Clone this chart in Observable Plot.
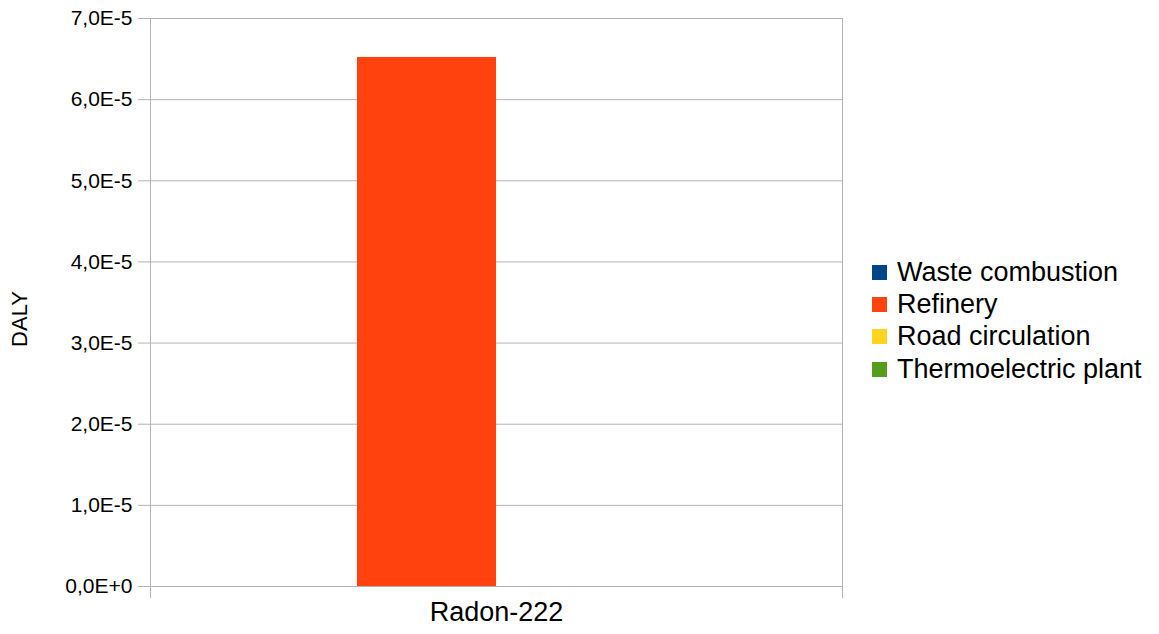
<!DOCTYPE html>
<html>
<head>
<meta charset="utf-8">
<script src="https://cdn.jsdelivr.net/npm/d3@7"></script>
<script src="https://cdn.jsdelivr.net/npm/@observablehq/plot@0.6"></script>
<style>
  body { margin: 0; background: #fff; font-family: "Liberation Sans", Arial, sans-serif; }
  #wrap { position: relative; width: 1159px; height: 634px; }
  #legend { position: absolute; left: 872px; top: 256px; font-size: 27px; color: #000; }
  .row { display: flex; align-items: center; height: 32.3px; }
  .sw { width: 15px; height: 15px; margin-right: 10px; }
  #ylabel { position: absolute; left: 20px; top: 318.5px; font-size: 22px; color: #000;
            transform: translate(-50%, -50%) rotate(-90deg); white-space: nowrap; line-height: 1; }
</style>
</head>
<body>
<div id="wrap"></div>
<script>
const categories = ["Radon-222"];
const series = ["Waste combustion", "Refinery", "Road circulation", "Thermoelectric plant"];
const values = [0, 6.52e-5, 0, 0];
const colors = ["#004586", "#ff420e", "#ffd320", "#579d1c"];
const yTicks = [0, 1e-5, 2e-5, 3e-5, 4e-5, 5e-5, 6e-5, 7e-5];
const yLabel = "DALY";

const data = series.map((s, i) => ({category: categories[0], series: s, value: values[i]}));
const fmt = d => d.toExponential(1).replace(".", ",").replace("e", "E");
const grid = "#b3b3b3";

const chart = Plot.plot({
  width: 1159,
  height: 634,
  marginLeft: 150,
  marginRight: 317,
  marginTop: 18,
  marginBottom: 48,
  style: {fontFamily: "Liberation Sans, Arial, sans-serif", fontSize: "21px", color: "#000", background: "#fff"},
  x: {domain: series, paddingInner: 0, paddingOuter: 0.48, axis: null},
  y: {domain: [0, 7e-5], ticks: yTicks, tickFormat: fmt, tickSize: 0, tickPadding: 18, label: null},
  color: {domain: series, range: colors},
  marks: [
    Plot.ruleY(yTicks, {stroke: grid, strokeWidth: 1, insetLeft: -12}),
    Plot.barY(data, {x: "series", y: "value", fill: "series"}),
    Plot.frame({anchor: "left", stroke: grid, insetBottom: -11}),
    Plot.frame({anchor: "right", stroke: grid, insetBottom: -11}),
    Plot.text(categories, {text: d => d, frameAnchor: "bottom", dy: 34, fontSize: 27, fill: "#000"})
  ]
});
const wrap = document.getElementById("wrap");
wrap.appendChild(chart);

const yl = document.createElement("div");
yl.id = "ylabel";
yl.textContent = yLabel;
wrap.appendChild(yl);

const legend = document.createElement("div");
legend.id = "legend";
series.forEach((s, i) => {
  const row = document.createElement("div");
  row.className = "row";
  const sw = document.createElement("div");
  sw.className = "sw";
  sw.style.background = colors[i];
  const t = document.createElement("span");
  t.textContent = s;
  row.appendChild(sw);
  row.appendChild(t);
  legend.appendChild(row);
});
wrap.appendChild(legend);
</script>
</body>
</html>
